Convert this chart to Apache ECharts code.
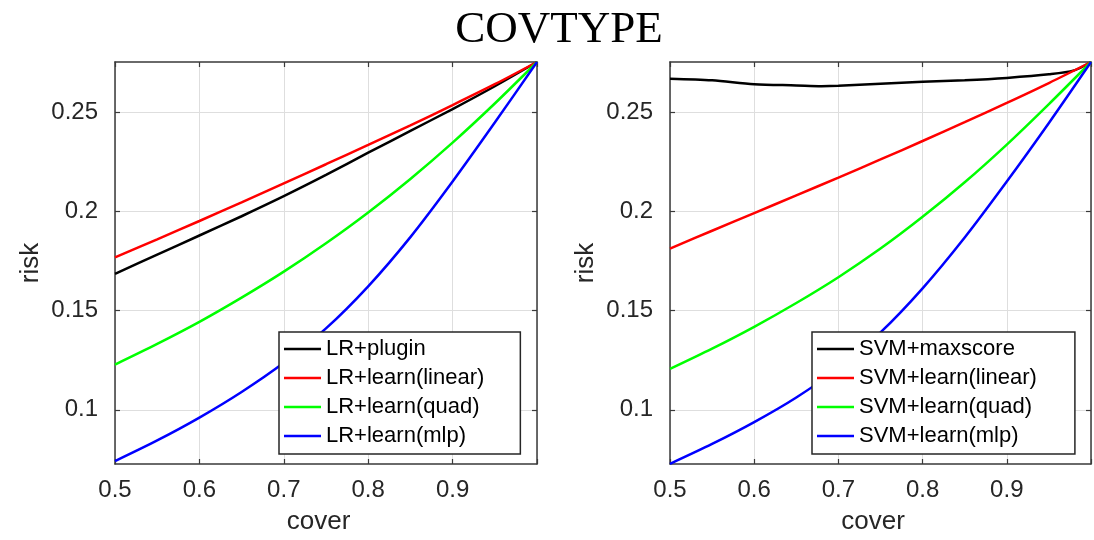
<!DOCTYPE html>
<html>
<head>
<meta charset="utf-8">
<title>COVTYPE</title>
<script src="https://cdn.jsdelivr.net/npm/echarts@6/dist/echarts.min.js"></script>
<style>
  html, body { margin: 0; padding: 0; background: #ffffff; }
  #chart { width: 1094px; height: 540px; }
</style>
</head>
<body>
<div id="chart"></div>
<script>
// Coverage levels shared by the smooth curves
const cover = [0.5, 0.55, 0.6, 0.65, 0.7, 0.75, 0.8, 0.85, 0.9, 0.95, 1.0];

// Left panel: logistic regression
const lrPlugin      = [0.1685, 0.1782, 0.1878, 0.1975, 0.2076, 0.2183, 0.2295, 0.2405, 0.2515, 0.2630, 0.2752];
const lrLearnLinear = [0.1768, 0.1859, 0.1951, 0.2045, 0.2141, 0.2237, 0.2334, 0.2433, 0.2535, 0.2640, 0.2752];
const lrLearnQuad   = [0.1228, 0.1332, 0.1443, 0.1565, 0.1696, 0.1839, 0.1994, 0.2163, 0.2346, 0.2543, 0.2752];
const lrLearnMlp    = [0.0742, 0.0846, 0.0961, 0.1090, 0.1237, 0.1410, 0.1622, 0.1870, 0.2150, 0.2447, 0.2752];

// Right panel: SVM (max-score baseline has its own, finer sampling)
const svmMaxCover    = [0.5, 0.55, 0.6, 0.65, 0.68, 0.7, 0.75, 0.8, 0.85, 0.9, 0.95, 0.98, 1.0];
const svmMaxscore    = [0.2668, 0.2660, 0.2640, 0.2634, 0.2630, 0.2632, 0.2643, 0.2652, 0.2660, 0.2672, 0.2690, 0.2710, 0.2752];
const svmLearnLinear = [0.1812, 0.1902, 0.1991, 0.2080, 0.2170, 0.2261, 0.2354, 0.2449, 0.2546, 0.2646, 0.2752];
const svmLearnQuad   = [0.1206, 0.1308, 0.1418, 0.1538, 0.1668, 0.1812, 0.1972, 0.2146, 0.2336, 0.2540, 0.2752];
const svmLearnMlp    = [0.0728, 0.0828, 0.0938, 0.1062, 0.1210, 0.1390, 0.1612, 0.1868, 0.2150, 0.2445, 0.2752];

// Axis ranges and tick values
const xMin = 0.5, xMax = 1.0, xStep = 0.1;
const xTickLabels = ['0.5', '0.6', '0.7', '0.8', '0.9', ''];
const yMin = 0.0727, yMax = 0.2752;
const yTicks = [0.1, 0.15, 0.2, 0.25];

const lrNames  = ['LR+plugin', 'LR+learn(linear)', 'LR+learn(quad)', 'LR+learn(mlp)'];
const svmNames = ['SVM+maxscore', 'SVM+learn(linear)', 'SVM+learn(quad)', 'SVM+learn(mlp)'];
const lineColors = ['#000000', '#ff0000', '#00ff00', '#0000ff'];

const SANS = '"Liberation Sans", Arial, Helvetica, sans-serif';
const AXIS_COLOR = '#3a3a3a';
const TEXT_COLOR = '#262626';
const GRID_COLOR = '#dedede';

function pairs(xs, ys) {
  return xs.map((x, i) => [x, ys[i]]);
}

function xAxisBottom(gridIndex) {
  return {
    type: 'value', gridIndex, position: 'bottom',
    min: xMin, max: xMax, interval: xStep,
    name: 'cover', nameLocation: 'middle', nameGap: 45,
    nameTextStyle: { fontFamily: SANS, fontSize: 26, color: TEXT_COLOR, padding: [0, 15, 0, 0] },
    axisLine: { show: true, onZero: false, lineStyle: { color: AXIS_COLOR, width: 1.5 } },
    axisTick: { show: true, inside: true, length: 5, lineStyle: { color: AXIS_COLOR, width: 1.2 } },
    axisLabel: {
      fontFamily: SANS, fontSize: 24, color: TEXT_COLOR, margin: 14,
      formatter: v => xTickLabels[Math.round((v - xMin) / xStep)] || ''
    },
    splitLine: { show: true, lineStyle: { color: GRID_COLOR, width: 1 } }
  };
}

function xAxisTop(gridIndex) {
  return {
    type: 'value', gridIndex, position: 'top',
    min: xMin, max: xMax, interval: xStep,
    axisLine: { show: true, onZero: false, lineStyle: { color: AXIS_COLOR, width: 1.5 } },
    axisTick: { show: true, inside: true, length: 5, lineStyle: { color: AXIS_COLOR, width: 1.2 } },
    axisLabel: { show: false },
    splitLine: { show: false }
  };
}

function yAxisLeft(gridIndex) {
  return {
    type: 'value', gridIndex, position: 'left',
    min: yMin, max: yMax,
    name: 'risk', nameLocation: 'middle', nameGap: 71, nameRotate: 90,
    nameTextStyle: { fontFamily: SANS, fontSize: 26, color: TEXT_COLOR },
    axisLine: { show: true, onZero: false, lineStyle: { color: AXIS_COLOR, width: 1.5 } },
    axisTick: { show: true, inside: true, length: 5, customValues: yTicks, lineStyle: { color: AXIS_COLOR, width: 1.2 } },
    axisLabel: {
      fontFamily: SANS, fontSize: 24, color: TEXT_COLOR, margin: 17, customValues: yTicks,
      formatter: v => String(Math.round(v * 100) / 100)
    },
    splitLine: { show: true, lineStyle: { color: GRID_COLOR, width: 1 } }
  };
}

function yAxisRight(gridIndex) {
  return {
    type: 'value', gridIndex, position: 'right',
    min: yMin, max: yMax,
    axisLine: { show: true, onZero: false, lineStyle: { color: AXIS_COLOR, width: 1.5 } },
    axisTick: { show: true, inside: true, length: 5, customValues: yTicks, lineStyle: { color: AXIS_COLOR, width: 1.2 } },
    axisLabel: { show: false },
    splitLine: { show: false }
  };
}

function curve(name, xs, ys, color, axisIndex) {
  return {
    name, type: 'line',
    xAxisIndex: axisIndex, yAxisIndex: axisIndex,
    data: pairs(xs, ys),
    smooth: 0.3, showSymbol: false, symbol: 'none',
    lineStyle: { color, width: 2.5 },
    itemStyle: { color },
    z: 2
  };
}

function legendBox(names, left, rightPad) {
  return {
    data: names, orient: 'vertical', left, top: 332,
    icon: 'rect', itemWidth: 37, itemHeight: 2.5, itemGap: 7,
    padding: [6, rightPad, 7, 5],
    backgroundColor: '#ffffff', borderColor: '#262626', borderWidth: 1.5, borderRadius: 0,
    textStyle: { fontFamily: SANS, fontSize: 22, lineHeight: 21, color: '#000000' },
    selectedMode: false, z: 10
  };
}

const chart = echarts.init(document.getElementById('chart'), null, { renderer: 'canvas' });

chart.setOption({
  animation: false,
  backgroundColor: '#ffffff',
  title: {
    text: 'COVTYPE', left: 554, top: 3, textAlign: 'center',
    textStyle: { fontFamily: '"Liberation Serif", "Times New Roman", serif', fontSize: 45, fontWeight: 'normal', color: '#000000' }
  },
  grid: [
    { left: 115, right: 557, top: 62, bottom: 72.5 },
    { left: 670, right: 2.5, top: 62, bottom: 72.5 }
  ],
  // axes 0/1 belong to the left panel, 2/3 to the right one
  xAxis: [xAxisBottom(0), xAxisTop(0), xAxisBottom(1), xAxisTop(1)],
  yAxis: [yAxisLeft(0), yAxisRight(0), yAxisLeft(1), yAxisRight(1)],
  legend: [legendBox(lrNames, 279, 36), legendBox(svmNames, 812, 38)],
  series: [
    curve(lrNames[0], cover, lrPlugin, lineColors[0], 0),
    curve(lrNames[1], cover, lrLearnLinear, lineColors[1], 0),
    curve(lrNames[2], cover, lrLearnQuad, lineColors[2], 0),
    curve(lrNames[3], cover, lrLearnMlp, lineColors[3], 0),
    curve(svmNames[0], svmMaxCover, svmMaxscore, lineColors[0], 2),
    curve(svmNames[1], cover, svmLearnLinear, lineColors[1], 2),
    curve(svmNames[2], cover, svmLearnQuad, lineColors[2], 2),
    curve(svmNames[3], cover, svmLearnMlp, lineColors[3], 2)
  ]
});
</script>
</body>
</html>
